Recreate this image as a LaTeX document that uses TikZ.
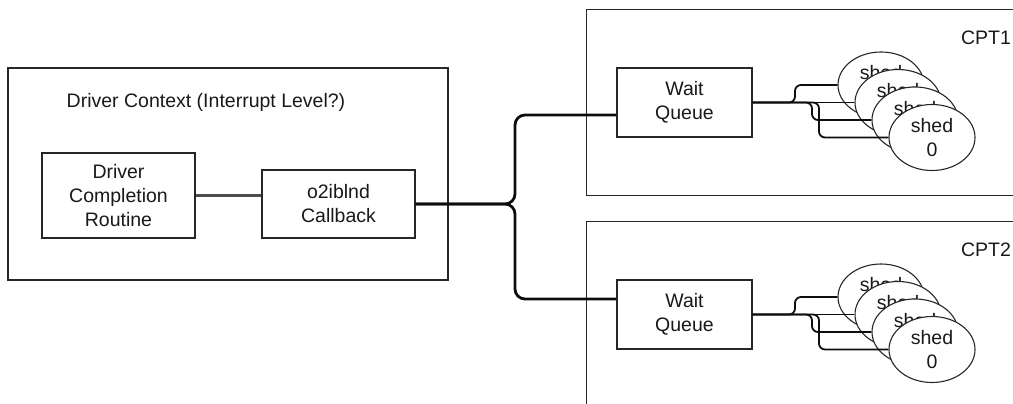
\documentclass[tikz,border=0pt]{standalone}
\usepackage{fontspec}
\setmainfont{Liberation Sans}
\usetikzlibrary{shapes.geometric}
\begin{document}
\begin{tikzpicture}[x=1pt,y=-1pt,
  every node/.style={font=\fontsize{19.5}{24}\selectfont, text=black!90, inner sep=0pt},
  frame/.style={draw=black!85, line width=1.1pt, rectangle},
  box/.style={draw=black!85, line width=1.1pt, fill=white, rectangle, align=center},
  shed/.style={ellipse, draw=black!85, line width=1.1pt, fill=white,
    minimum width=86pt, minimum height=66pt, align=center},
  link/.style={draw=black!70, line width=2.8pt},
  trunk/.style={draw=black!95, line width=2.8pt, rounded corners=10pt},
  fan/.style={draw=black!95, line width=1.8pt, rounded corners=6pt}]
\useasboundingbox (0,0) rectangle (1013,404);
\clip (0,0) rectangle (1013,404);

% driver side
\node[frame, minimum width=440pt, minimum height=212pt] (ctx) at (228,174) {};
\node (ctxlbl) at (206,102) {Driver Context (Interrupt Level?)};
\node[box, minimum width=153pt, minimum height=85pt] (dcr) at (118.5,195.5) {Driver\\Completion\\Routine};
\node[box, minimum width=153pt, minimum height=68pt] (cb) at (338.5,204) {o2iblnd\\Callback};
\draw[link] (dcr.east) -- (dcr.east -| cb.west);

% the two CPT partitions
\foreach \g/\dy in {1/0,2/212} {
  \node[frame, anchor=north west, minimum width=460pt, minimum height=186pt] (cpt\g) at (586,9+\dy) {};
  \node (cptlbl\g) at (986,38+\dy) {CPT\g};
  \node[box, minimum width=135pt, minimum height=69pt] (wq\g) at (684.5,102.5+\dy) {Wait\\Queue};
  \foreach \k/\i in {3/0,2/1,1/2,0/3}
    \node[shed] (s\g\k) at (881+17*\i, 85+17.5*\i+\dy) {shed\\\k};
  \draw[fan] (wq\g.east) -- (795,102.5+\dy) |- (s\g3.west);
  \draw[fan] (wq\g.east) -- (s\g2.west);
  \draw[fan] (wq\g.east) -- (812,102.5+\dy) |- (s\g1.west);
  \draw[fan] (wq\g.east) -- (819,102.5+\dy) |- (s\g0.west);
}

% callback fans out to both wait queues
\coordinate (split) at (515,204);
\draw[trunk] (cb.east) -- (split) |- ([yshift=-12.5pt]wq1.west);
\draw[trunk] (cb.east) -- (split) |- ([yshift=15.5pt]wq2.west);
\end{tikzpicture}
\end{document}
